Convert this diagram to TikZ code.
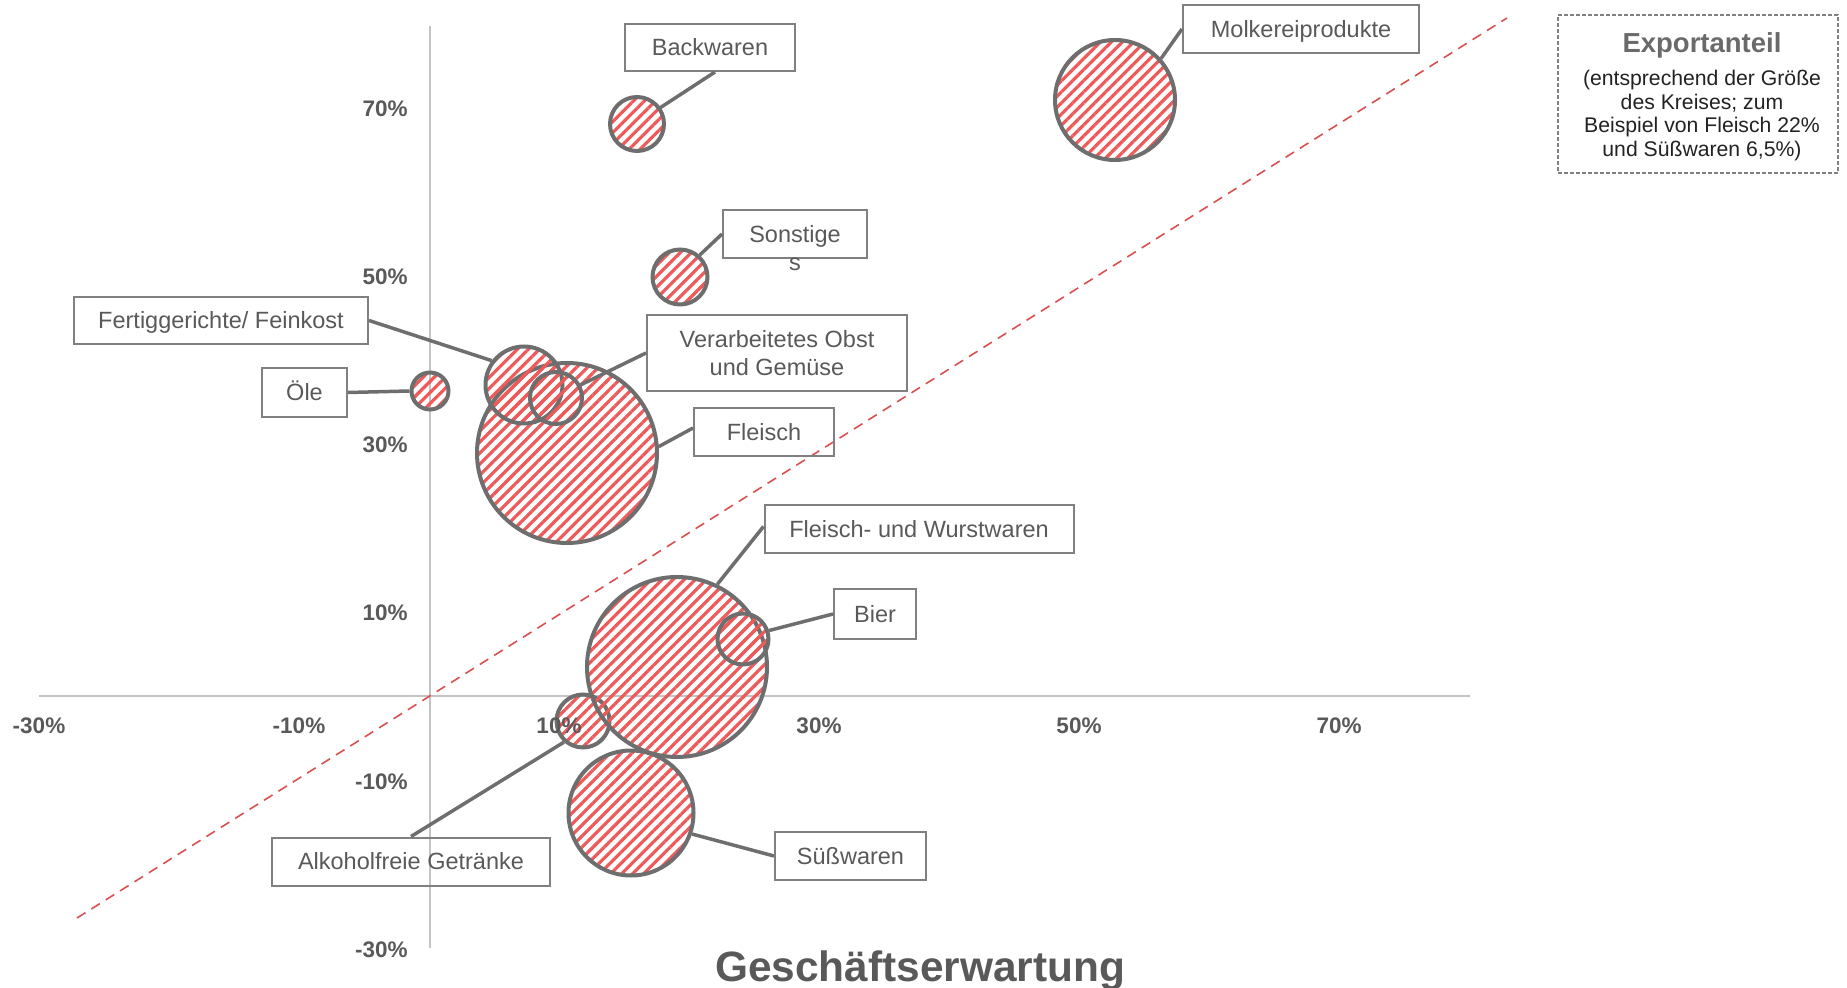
\documentclass[tikz,border=0pt]{standalone}
\usepackage{fontspec}
\setmainfont{Liberation Sans}
\usetikzlibrary{patterns.meta,calc}
\definecolor{txtgray}{HTML}{595959}
\definecolor{linegray}{HTML}{6E6E6E}
\definecolor{boxgray}{HTML}{808080}
\definecolor{axisgray}{HTML}{C4C4C4}
\definecolor{stripered}{HTML}{EE5A5A}
\definecolor{dashred}{HTML}{D95050}
\definecolor{legtitle}{HTML}{6A6A6A}
\definecolor{legtext}{HTML}{222222}
\begin{document}
\begin{tikzpicture}[x=0.5pt,y=-0.5pt,
  lblbox/.style={draw=boxgray, line width=1pt, text=txtgray, font=\fontsize{11.75pt}{14pt}\selectfont, inner sep=0pt},
  lblone/.style={lblbox, text height=10.63pt, text depth=2.49pt},
  bub/.style={circle, draw=linegray, line width=2pt, inner sep=0pt, pattern={Lines[angle=45,distance=3.9pt,line width=1.6pt]}, pattern color=stripered},
  conn/.style={draw=linegray, line width=1.75pt},
  ticklbl/.style={text=txtgray, font=\bfseries\fontsize{11.25pt}{13pt}\selectfont, inner sep=0pt},
  axisline/.style={draw=axisgray, line width=0.9pt},
  legline/.style={anchor=base, text=legtext, inner sep=0pt, font=\fontsize{10.6pt}{12pt}\selectfont}]
\useasboundingbox (0,0) rectangle (1847,988);

% axes
\coordinate (xa) at (39,696);
\coordinate (xb) at (1470,696);
\coordinate (ya) at (430,26);
\coordinate (yb) at (430,948);
\draw[axisline] (xa) -- (xb);
\draw[axisline] (ya) -- (yb);

% diagonal
\coordinate (d1) at (77,918);
\coordinate (d2) at (1507,18);
\draw[dashred, line width=0.8pt, dash pattern=on 5pt off 3.5pt] (d1) -- (d2);

% bubbles
\node[bub, minimum size=27pt] (cbw) at (637,124) {};
\node[bub, minimum size=60pt] (cmk) at (1115,100) {};
\node[bub, minimum size=27.5pt] (cso) at (680,277) {};
\node[bub, minimum size=18.5pt] (col) at (430,391) {};
\node[bub, minimum size=90pt] (cfl) at (567,453) {};
\node[bub, minimum size=38.5pt] (cfg) at (524,385) {};
\node[bub, minimum size=26pt] (cvo) at (556,398) {};
\node[bub, minimum size=26.5pt] (cag) at (583,721) {};
\node[bub, minimum size=62.5pt] (csw) at (631,813) {};
\node[bub, minimum size=90pt] (cfw) at (677,667) {};
\node[bub, minimum size=25.5pt] (cbi) at (743,639) {};

% label boxes
\node[lblone, minimum width=85pt, minimum height=23.5pt] (bw) at (710,47.5) {Backwaren};
\node[lblone, minimum width=118pt, minimum height=24pt] (mk) at (1301,29) {Molkereiprodukte};
\node[lblone, minimum width=72pt, minimum height=24pt] (so) at (795,234) {Sonstige};
\node[anchor=base, text=txtgray, inner sep=0pt, font=\fontsize{11.75pt}{14pt}\selectfont] (so2) at ([yshift=-14.25pt]so.base) {s};
\node[lblone, minimum width=147pt, minimum height=23.5pt] (fg) at (221,320.5) {Fertiggerichte/ Feinkost};
\node[lblbox, align=center, minimum width=130pt, minimum height=38pt] (vo) at (777,353) {Verarbeitetes Obst\\und Gemüse};
\node[lblone, minimum width=70pt, minimum height=24pt] (fl) at (764,432) {Fleisch};
\node[lblone, minimum width=154.5pt, minimum height=24pt] (fw) at (919,529.5) {Fleisch- und Wurstwaren};
\node[lblone, minimum width=41pt, minimum height=24.5pt] (bi) at (875,614) {Bier};
\node[lblone, minimum width=42.5pt, minimum height=24.5pt] (ol) at (304.5,392.5) {Öle};
\node[lblone, minimum width=139pt, minimum height=24pt] (ag) at (411,861.5) {Alkoholfreie Getränke};
\node[lblone, minimum width=75.5pt, minimum height=24pt] (sw) at (850.5,856) {Süßwaren};

% connectors
\draw[conn] ($(bw.south)+(5,0)$) -- (cbw.35);
\draw[conn] (mk.west) -- (cmk.42);
\draw[conn] (so.west) -- (cso.48);
\draw[conn] (fg.east) -- (cfg.143);
\draw[conn] (vo.west) -- (cvo.28);
\draw[conn] ($(fl.west)+(0,-4)$) -- (cfl.4);
\draw[conn] ($(fw.west)+(0,-3)$) -- (cfw.64);
\draw[conn] (bi.west) -- (cbi.18);
\draw[conn] (ol.east) -- (col.180);
\draw[conn] (ag.north) -- (cag.228);
\draw[conn] (sw.west) -- (csw.-19);

% tick labels
\node[ticklbl, anchor=base] (xt1) at (39,733) {-30\%};
\node[ticklbl, anchor=base] (xt2) at (299,733) {-10\%};
\node[ticklbl, anchor=base] (xt3) at (559,733) {10\%};
\node[ticklbl, anchor=base] (xt4) at (819,733) {30\%};
\node[ticklbl, anchor=base] (xt5) at (1079,733) {50\%};
\node[ticklbl, anchor=base] (xt6) at (1339,733) {70\%};
\node[ticklbl, anchor=base east] (yt1) at (408,117) {70\%};
\node[ticklbl, anchor=base east] (yt2) at (408,285) {50\%};
\node[ticklbl, anchor=base east] (yt3) at (408,453) {30\%};
\node[ticklbl, anchor=base east] (yt4) at (408,621) {10\%};
\node[ticklbl, anchor=base east] (yt5) at (408,789) {-10\%};
\node[ticklbl, anchor=base east] (yt6) at (408,957) {-30\%};

% legend
\node[draw=boxgray, line width=0.75pt, dash pattern=on 2pt off 1pt, minimum width=140pt, minimum height=79pt, inner sep=0pt] (leg) at (1698,94) {};
\node[anchor=base, text=legtitle, inner sep=0pt, font=\bfseries\fontsize{13.75pt}{16pt}\selectfont] (lgt) at (1702,53) {Exportanteil};
\node[legline] (lg1) at (1702,86) {(entsprechend der Größe};
\node[legline] (lg2) at (1702,109.5) {des Kreises; zum};
\node[legline] (lg3) at (1702,133) {Beispiel von Fleisch 22\%};
\node[legline] (lg4) at (1702,156.5) {und Süßwaren 6,5\%)};

% axis title
\node[anchor=base, text=txtgray, inner sep=0pt, font=\bfseries\fontsize{21.2pt}{25pt}\selectfont] (atitle) at (920,981) {Geschäftserwartung};
\end{tikzpicture}
\end{document}
